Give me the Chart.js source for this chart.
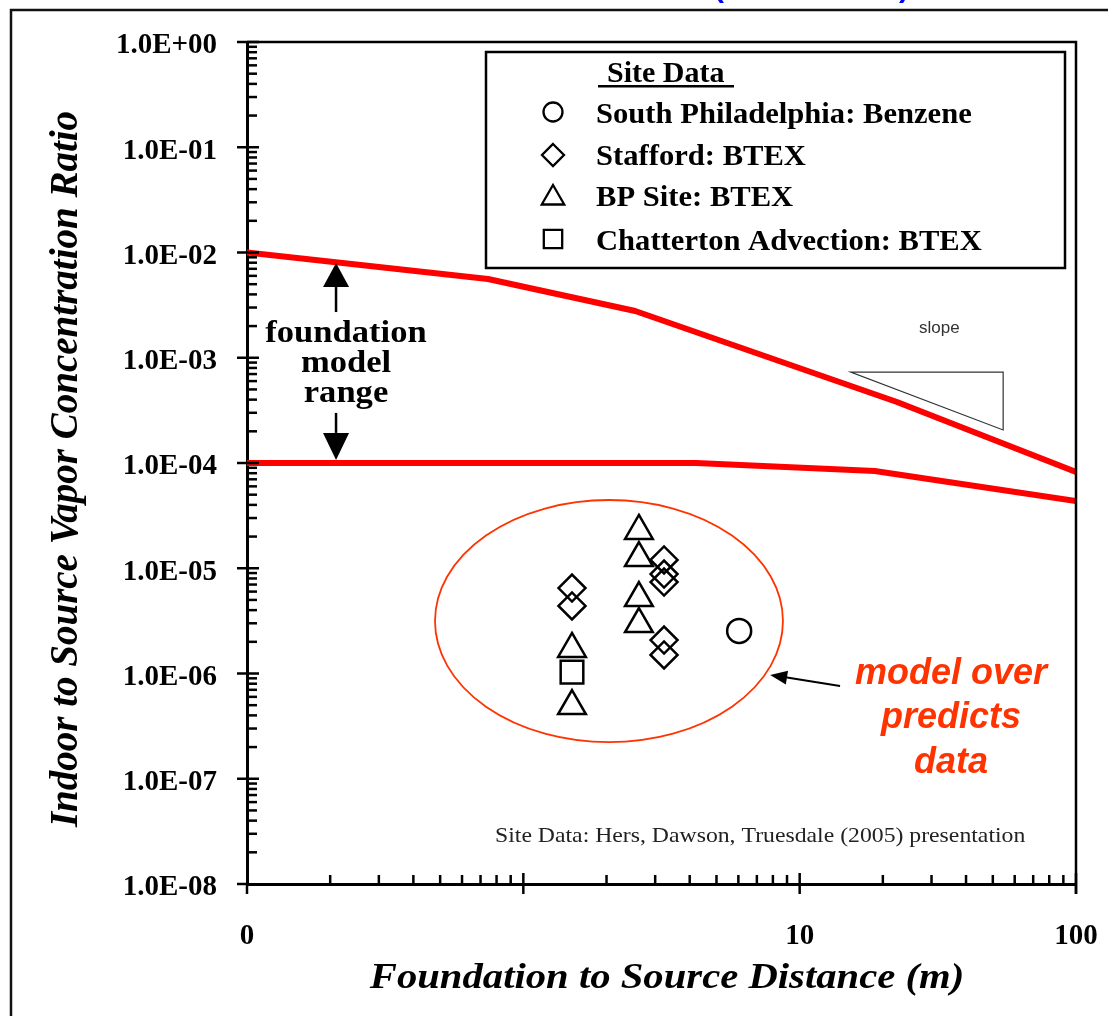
<!DOCTYPE html>
<html><head><meta charset="utf-8">
<script src="https://cdn.jsdelivr.net/npm/chart.js@4.4.1/dist/chart.umd.min.js"></script>
<style>html,body{margin:0;padding:0;background:#fff}#wrap{width:1108px;height:1016px}</style>
</head><body><div id="wrap"><canvas id="c" width="1108" height="1016"></canvas></div>
<script>
// ---- data ----
const xTickValues = [0.1, 1, 10, 100];
const xTickLabels = ['0', '', '10', '100'];
const yTickValues = [1e-8, 1e-7, 1e-6, 1e-5, 1e-4, 1e-3, 1e-2, 1e-1, 1];
const yTickLabels = ['1.0E-08','1.0E-07','1.0E-06','1.0E-05','1.0E-04','1.0E-03','1.0E-02','1.0E-01','1.0E+00'];

const upperX = [0.1, 0.745, 2.54, 22.5, 100];
const upperY = [1.0e-2, 5.6e-3, 2.78e-3, 3.8e-4, 8.2e-5];
const lowerX = [0.1, 4.22, 18.7, 100];
const lowerY = [1.0e-4, 1.0e-4, 8.4e-5, 4.35e-5];

const phillyX = [6.04];
const phillyY = [2.54e-6];
const staffordX = [1.5, 1.5, 3.23, 3.23, 3.23, 3.23, 3.23];
const staffordY = [6.49e-6, 4.38e-6, 1.20e-5, 8.81e-6, 7.40e-6, 2.08e-6, 1.50e-6];
const bpX = [2.62, 2.62, 2.62, 2.62, 1.5, 1.5];
const bpY = [2.26e-5, 1.25e-5, 5.21e-6, 2.95e-6, 1.71e-6, 4.91e-7];
const chattX = [1.5];
const chattY = [1.03e-6];

const seriesNames = ['South Philadelphia: Benzene', 'Stafford: BTEX', 'BP Site: BTEX', 'Chatterton Advection: BTEX'];

// ---- annotation anchors (data space) ----
const ellipseBox = {x0: 0.479, x1: 8.7, yTop: 4.45e-5, yBot: 2.23e-7};
const slopeTri = {x0: 15.3, x1: 54.5, yTop: 7.3e-4, yBot: 2.06e-4};
const upArrowTip = {x: 0.21, y: 7.94e-3};
const downArrowTip = {x: 0.21, y: 1.07e-4};
const pointerArrow = {x1: 14.0, y1: 7.6e-7, x2: 7.82, y2: 9.7e-7};

const SERIF = "'Liberation Serif','Times New Roman',serif";
const SANS = "'Liberation Sans',Arial,sans-serif";
const ORANGE = '#FF3300';

const pts = (xs, ys) => xs.map((x, i) => ({x: x, y: ys[i]}));

function txt(ctx, s, x, y, font, color, align, sx) {
  ctx.save();
  ctx.font = font; ctx.fillStyle = color; ctx.textAlign = align || 'left'; ctx.textBaseline = 'alphabetic';
  ctx.translate(x, y); ctx.scale(sx || 1, 1); ctx.fillText(s, 0, 0);
  ctx.restore();
}
function marker(ctx, style, x, y, r) {
  ctx.beginPath();
  if (style === 'circle') ctx.arc(x, y, r, 0, 2 * Math.PI);
  else if (style === 'rectRot') { ctx.moveTo(x, y - r); ctx.lineTo(x + r, y); ctx.lineTo(x, y + r); ctx.lineTo(x - r, y); ctx.closePath(); }
  else if (style === 'triangle') { ctx.moveTo(x, y - r); ctx.lineTo(x + r * 0.866, y + r / 2); ctx.lineTo(x - r * 0.866, y + r / 2); ctx.closePath(); }
  else if (style === 'rect') { const s = r * Math.SQRT1_2; ctx.rect(x - s, y - s, 2 * s, 2 * s); }
  ctx.stroke();
}
function arrow(ctx, x1, y1, x2, y2, headLen, headHalf, lw) {
  const a = Math.atan2(y2 - y1, x2 - x1);
  const bx = x2 - headLen * Math.cos(a), by = y2 - headLen * Math.sin(a);
  ctx.lineWidth = lw;
  ctx.beginPath(); ctx.moveTo(x1, y1); ctx.lineTo(bx, by); ctx.stroke();
  ctx.beginPath(); ctx.moveTo(x2, y2);
  ctx.lineTo(bx - headHalf * Math.sin(a), by + headHalf * Math.cos(a));
  ctx.lineTo(bx + headHalf * Math.sin(a), by - headHalf * Math.cos(a));
  ctx.closePath(); ctx.fill();
}

const decorPlugin = {
  id: 'decor',
  beforeDatasetsDraw(chart) {
    const ctx = chart.ctx, xs = chart.scales.x, ys = chart.scales.y;
    const X = v => xs.getPixelForValue(v), Y = v => ys.getPixelForValue(v);
    const ex0 = X(ellipseBox.x0), ex1 = X(ellipseBox.x1), ey0 = Y(ellipseBox.yTop), ey1 = Y(ellipseBox.yBot);
    ctx.save();
    ctx.strokeStyle = ORANGE; ctx.lineWidth = 1.8;
    ctx.beginPath();
    ctx.ellipse((ex0 + ex1) / 2, (ey0 + ey1) / 2, (ex1 - ex0) / 2, (ey1 - ey0) / 2, 0, 0, 2 * Math.PI);
    ctx.stroke();
    ctx.strokeStyle = '#333'; ctx.lineWidth = 1.2;
    ctx.beginPath();
    ctx.moveTo(X(slopeTri.x0), Y(slopeTri.yTop));
    ctx.lineTo(X(slopeTri.x1), Y(slopeTri.yTop));
    ctx.lineTo(X(slopeTri.x1), Y(slopeTri.yBot));
    ctx.closePath(); ctx.stroke();
    ctx.restore();
  },
  afterDraw(chart) {
    const ctx = chart.ctx, xs = chart.scales.x, ys = chart.scales.y, ca = chart.chartArea;
    const X = v => xs.getPixelForValue(v), Y = v => ys.getPixelForValue(v);
    ctx.save();
    ctx.strokeStyle = '#111'; ctx.lineWidth = 2.5;
    ctx.strokeRect(11, 10, 1300, 1300);
    txt(ctx, '(', 714, -3, "bold 30px " + SANS, '#0000FF', 'left');
    txt(ctx, ')', 899, -3, "bold 30px " + SANS, '#0000FF', 'left');
    ctx.strokeStyle = '#000'; ctx.lineWidth = 2.5;
    ctx.beginPath(); ctx.moveTo(ca.left, ca.top); ctx.lineTo(ca.right, ca.top); ctx.lineTo(ca.right, ca.bottom + 10); ctx.stroke();
    ctx.lineWidth = 2.5;
    for (let d = -8; d <= 0; d++) {
      const py = Y(Math.pow(10, d));
      ctx.beginPath(); ctx.moveTo(ca.left - 10, py); ctx.lineTo(ca.left + (d === -8 ? 0 : 12), py); ctx.stroke();
      if (d < 0) for (let m = 2; m <= 9; m++) {
        const pm = Y(m * Math.pow(10, d));
        ctx.beginPath(); ctx.moveTo(ca.left, pm); ctx.lineTo(ca.left + 10, pm); ctx.stroke();
      }
    }
    for (let d = -1; d <= 2; d++) {
      const px = X(Math.pow(10, d));
      ctx.beginPath(); ctx.moveTo(px, ca.bottom + 10); ctx.lineTo(px, ca.bottom - (d === -1 ? 0 : 11)); ctx.stroke();
      if (d < 2) for (let m = 2; m <= 9; m++) {
        const pm = X(m * Math.pow(10, d));
        ctx.beginPath(); ctx.moveTo(pm, ca.bottom); ctx.lineTo(pm, ca.bottom - 9); ctx.stroke();
      }
    }
    txt(ctx, 'Foundation to Source Distance (m)', 667, 988, "italic bold 36px " + SERIF, '#000', 'center', 1.13);
    ctx.save();
    ctx.translate(77, 469); ctx.rotate(-Math.PI / 2);
    txt(ctx, 'Indoor to Source Vapor Concentration Ratio', 0, 0, "italic bold 39px " + SERIF, '#000', 'center', 1);
    ctx.restore();
    ctx.strokeStyle = '#000'; ctx.fillStyle = '#fff'; ctx.lineWidth = 2.5;
    ctx.fillRect(486, 52, 579, 216);
    ctx.strokeRect(486, 52, 579, 216);
    txt(ctx, 'Site Data', 607, 82, "bold 30px " + SERIF, '#000', 'left');
    ctx.fillStyle = '#000'; ctx.fillRect(598, 85, 136, 2.5);
    const styles = ['circle', 'rectRot', 'triangle', 'rect'];
    const radii = [9.5, 11, 13, 13];
    const my = [112, 155, 198, 239];
    const by = [123, 165, 206, 250];
    ctx.strokeStyle = '#000'; ctx.lineWidth = 2.3;
    for (let i = 0; i < 4; i++) {
      marker(ctx, styles[i], 553, my[i], radii[i]);
      txt(ctx, seriesNames[i], 596, by[i], "bold 30px " + SERIF, '#000', 'left', 1.02);
    }
    ctx.fillStyle = '#000'; ctx.strokeStyle = '#000';
    const ux = X(upArrowTip.x), uy = Y(upArrowTip.y);
    arrow(ctx, ux, uy + 49, ux, uy, 24, 13, 2.5);
    const dx = X(downArrowTip.x), dy = Y(downArrowTip.y);
    arrow(ctx, dx, dy - 47, dx, dy, 27, 13, 2.5);
    txt(ctx, 'foundation', 346, 342, "bold 32px " + SERIF, '#000', 'center', 1.08);
    txt(ctx, 'model', 346, 372, "bold 32px " + SERIF, '#000', 'center', 1.08);
    txt(ctx, 'range', 346, 402, "bold 32px " + SERIF, '#000', 'center', 1.08);
    txt(ctx, 'slope', 919, 333, "17px " + SANS, '#333', 'left');
    arrow(ctx, X(pointerArrow.x1), Y(pointerArrow.y1), X(pointerArrow.x2), Y(pointerArrow.y2), 17, 7, 2);
    txt(ctx, 'model over', 951, 684, "italic bold 36px " + SANS, ORANGE, 'center');
    txt(ctx, 'predicts', 951, 728, "italic bold 36px " + SANS, ORANGE, 'center');
    txt(ctx, 'data', 951, 773, "italic bold 36px " + SANS, ORANGE, 'center');
    txt(ctx, 'Site Data: Hers, Dawson, Truesdale (2005) presentation', 495, 842, "21px " + SERIF, '#222', 'left', 1.13);
    ctx.restore();
  }
};

const pointDs = (label, xs, ys, style, r) => ({
  label: label, data: pts(xs, ys), showLine: false, pointStyle: style, pointRadius: r, pointHoverRadius: r,
  borderColor: '#000', backgroundColor: 'rgba(0,0,0,0)', borderWidth: 2.5, pointBorderWidth: 2.5
});
const lineDs = (label, xs, ys) => ({
  label: label, data: pts(xs, ys), showLine: true, pointRadius: 0, borderColor: '#FF0000', borderWidth: 6,
  borderCapStyle: 'round', borderJoinStyle: 'round', tension: 0, fill: false
});

new Chart(document.getElementById('c'), {
  type: 'scatter',
  data: {
    datasets: [
      pointDs(seriesNames[0], phillyX, phillyY, 'circle', 12),
      pointDs(seriesNames[1], staffordX, staffordY, 'rectRot', 13.5),
      pointDs(seriesNames[2], bpX, bpY, 'triangle', 16),
      pointDs(seriesNames[3], chattX, chattY, 'rect', 16),
      lineDs('Model upper', upperX, upperY),
      lineDs('Model lower', lowerX, lowerY)
    ]
  },
  options: {
    responsive: false, animation: false, devicePixelRatio: 1,
    layout: {padding: {top: 42, right: 32, left: 0, bottom: 0}},
    plugins: {legend: {display: false}, tooltip: {enabled: false}},
    scales: {
      x: {
        type: 'logarithmic', position: 'bottom', min: 0.1, max: 100,
        afterFit: s => { s.height = 132; s.paddingLeft = 0; s.paddingRight = 0; },
        afterBuildTicks: s => { s.ticks = xTickValues.map(v => ({value: v})); },
        ticks: {autoSkip: false, maxRotation: 0, padding: 27, color: '#000',
          font: {family: SERIF, weight: 'bold', size: 29},
          callback: (v, i) => xTickLabels[i]},
        grid: {display: false},
        border: {display: true, color: '#000', width: 3}
      },
      y: {
        type: 'logarithmic', position: 'left', min: 1e-8, max: 1,
        afterFit: s => { s.width = 247; s.paddingTop = 0; s.paddingBottom = 0; },
        afterBuildTicks: s => { s.ticks = yTickValues.map(v => ({value: v})); },
        ticks: {autoSkip: false, padding: 22, labelOffset: 4, color: '#000',
          font: {family: SERIF, weight: 'bold', size: 29},
          callback: (v, i) => yTickLabels[i]},
        grid: {display: false},
        border: {display: true, color: '#000', width: 3}
      }
    }
  },
  plugins: [decorPlugin]
});
</script></body></html>
